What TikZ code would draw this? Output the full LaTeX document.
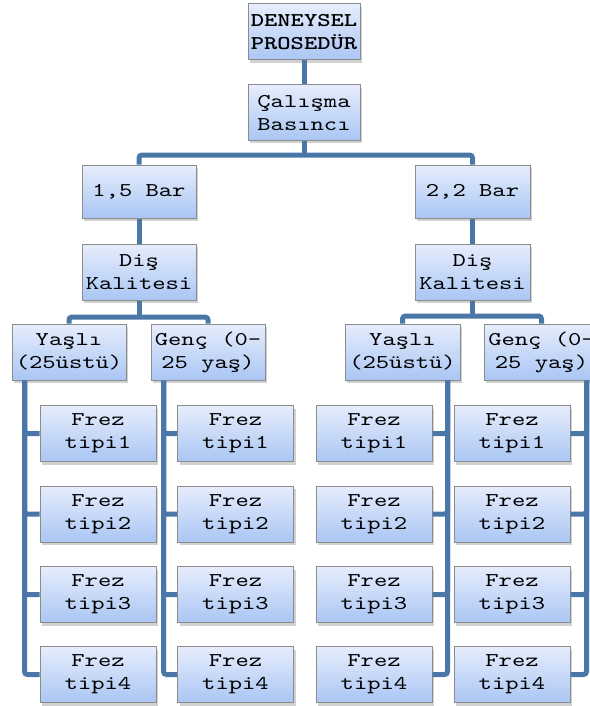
\documentclass[tikz,border=0pt]{standalone}
\usepackage{fontspec}
\usetikzlibrary{shadows,calc}
\newfontfamily\bxfam{lmmono10-regular}[Extension=.otf, BoldFont=lmmonolt10-bold, FakeStretch=1.3]
\definecolor{linecol}{RGB}{74,118,168}
\definecolor{boxtop}{RGB}{230,237,252}
\definecolor{boxbot}{RGB}{170,198,244}
\definecolor{boxedge}{RGB}{140,140,140}
\newcommand{\bxfont}{\bxfam\fontsize{19.5}{23}\selectfont}
\newcommand{\bxboldfont}{\bxfam\bfseries\fontsize{19.5}{23}\selectfont}
\tikzset{
  bx/.style={rectangle, draw=boxedge, line width=1pt, top color=boxtop, bottom color=boxbot,
    minimum width=115pt, minimum height=56pt, inner sep=1pt, align=center,
    font=\bxfont,
    drop shadow={shadow xshift=2pt, shadow yshift=-3pt, opacity=0.3, fill=black!60}},
  conn/.style={draw=linecol, line width=5pt, rounded corners=3pt}
}
\begin{document}
\begin{tikzpicture}[x=1pt,y=-1pt]
\useasboundingbox (0,0) rectangle (589,706);
\coordinate (j1) at (304,155);
\coordinate (j2) at (139,317);
\coordinate (j3) at (472.5,316);
% nodes
\node[bx, font=\bxboldfont, minimum width=112pt] (top) at (304,32) {DENEYSEL\\PROSEDÜR};
\node[bx, minimum width=112pt, minimum height=55pt] (cal) at (304,112.5) {Çalışma\\Basıncı};
\node[bx, minimum width=114pt, minimum height=53pt] (b15) at (139,191.5) {1,5 Bar};
\node[bx, minimum height=53pt] (b22) at (472.5,191.5) {2,2 Bar};
\node[bx, minimum width=114pt] (dk1) at (139,272) {Diş\\Kalitesi};
\node[bx] (dk2) at (472.5,272) {Diş\\Kalitesi};
\node[bx, minimum width=114pt] (y1) at (69,352) {Yaşlı\\(25üstü)};
\node[bx, minimum width=114pt] (g1) at (208,352) {Genç (0-\\25 yaş)};
\node[bx] (y2) at (402.5,352) {Yaşlı\\(25üstü)};
\node[bx] (g2) at (541.5,352) {Genç (0-\\25 yaş)};
\foreach \c/\x in {1/98,2/235.5,3/374,4/512}{
  \foreach \r/\y in {1/433.5,2/514,3/594.5,4/674.5}{
    \node[bx, minimum width=116pt] (f\c\r) at (\x,\y) {Frez\\tipi\r};
  }
}
% connectors
\draw[conn] (top.south) -- (cal.north);
\draw[conn] (cal.south) -- (j1);
\draw[conn] (b15.north) |- (j1) -| (b22.north);
\draw[conn] (b15.south) -- (dk1.north);
\draw[conn] (b22.south) -- (dk2.north);
\draw[conn] (dk1.south) -- (j2);
\draw[conn] (dk2.south) -- (j3);
\draw[conn] (y1.north) |- (j2) -| (g1.north);
\draw[conn] (y2.north) |- (j3) -| (g2.north);
\foreach \r in {1,2,3,4}{
  \draw[conn] ($(y1.south west)+(13,0)$) |- (f1\r.west);
  \draw[conn] ($(g1.south west)+(13,0)$) |- (f2\r.west);
  \draw[conn] ($(y2.south east)+(-13,0)$) |- (f3\r.east);
  \draw[conn] ($(g2.south east)+(-13,0)$) |- (f4\r.east);
}
\end{tikzpicture}
\end{document}
